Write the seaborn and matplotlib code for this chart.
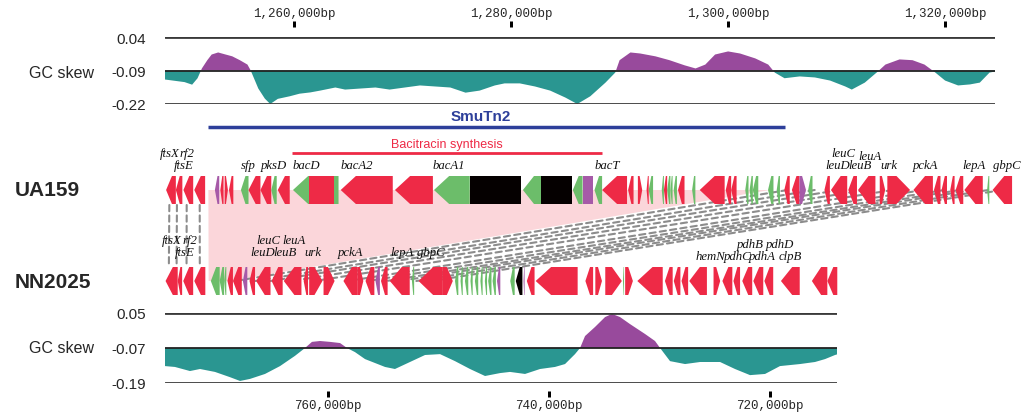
import matplotlib
matplotlib.use("Agg")
from matplotlib import pyplot as plt
from matplotlib.patches import Polygon, ConnectionPatch
import seaborn as sns

# ---- GC skew, UA159 (kb, skew) ----
ua_pos = [1248.1, 1249.0, 1249.9, 1250.6, 1251.1, 1251.5, 1252.0, 1252.4, 1253.0, 1253.6,
          1254.3, 1255.0, 1255.7, 1256.0, 1256.7, 1257.3, 1257.8, 1258.5, 1259.6, 1260.5,
          1261.5, 1262.4, 1263.8, 1264.7, 1266.1, 1267.5, 1268.8, 1270.2, 1271.6, 1273.0,
          1274.4, 1275.8, 1277.1, 1278.5, 1279.4, 1280.8, 1282.2, 1283.6, 1285.0, 1286.1,
          1287.3, 1288.7, 1289.6, 1290.0, 1291.0, 1291.9, 1293.3, 1294.6, 1296.0, 1297.0,
          1297.9, 1298.8, 1300.0, 1301.1, 1302.5, 1303.7, 1304.3, 1305.2, 1306.6, 1308.0,
          1309.4, 1310.8, 1311.4, 1312.6, 1313.8, 1314.5, 1315.8, 1317.0, 1318.1, 1319.1,
          1320.0, 1321.2, 1322.3, 1323.2, 1324.1, 1324.6]
ua_skew = [-0.125, -0.13, -0.135, -0.145, -0.12, -0.082, -0.05, -0.028, -0.02, -0.027,
           -0.035, -0.05, -0.067, -0.09, -0.16, -0.199, -0.22, -0.2, -0.19, -0.18,
           -0.175, -0.168, -0.156, -0.164, -0.16, -0.156, -0.164, -0.156, -0.148, -0.152,
           -0.156, -0.176, -0.168, -0.148, -0.14, -0.14, -0.152, -0.168, -0.195, -0.22,
           -0.19, -0.137, -0.098, -0.05, -0.02, -0.024, -0.035, -0.05, -0.07, -0.082,
           -0.067, -0.028, -0.016, -0.024, -0.043, -0.067, -0.098, -0.12, -0.113, -0.117,
           -0.129, -0.152, -0.164, -0.137, -0.094, -0.067, -0.047, -0.05, -0.067, -0.098,
           -0.129, -0.148, -0.144, -0.137, -0.098, -0.094]
ua_base = -0.09
ua_yticks = [0.04, -0.09, -0.22]
ua_xticks = [1260, 1280, 1300, 1320]

# ---- GC skew, NN2025 (kb, skew) ----
nn_pos = [774.75, 773.85, 772.49, 771.58, 770.23, 768.87, 767.96, 767.06, 765.70, 764.34,
          762.99, 762.08, 761.45, 760.72, 759.82, 758.91, 758.28, 757.56, 756.65, 754.84,
          753.94, 752.58, 751.22, 749.86, 748.51, 747.15, 745.79, 744.43, 743.53, 742.17,
          740.81, 739.46, 738.55, 737.65, 737.19, 736.74, 735.84, 734.93, 734.30, 733.57,
          732.67, 731.31, 730.41, 729.95, 729.05, 727.69, 726.33, 724.52, 723.17, 721.81,
          720.45, 719.10, 717.29, 715.93, 715.02, 714.12, 713.94]
nn_skew = [-0.132, -0.135, -0.149, -0.142, -0.152, -0.17, -0.183, -0.176, -0.159, -0.132,
           -0.097, -0.07, -0.049, -0.046, -0.049, -0.053, -0.07, -0.084, -0.108, -0.135,
           -0.142, -0.118, -0.094, -0.091, -0.115, -0.142, -0.166, -0.156, -0.152, -0.159,
           -0.142, -0.135, -0.125, -0.091, -0.07, -0.029, 0.002, 0.036, 0.047, 0.036,
           0.012, -0.022, -0.046, -0.07, -0.115, -0.125, -0.118, -0.118, -0.142, -0.163,
           -0.159, -0.132, -0.125, -0.118, -0.108, -0.094, -0.092]
nn_base = -0.07
nn_yticks = [0.05, -0.07, -0.19]
nn_xticks = [760, 740, 720]

# ---- genes: (start kb, end kb, strand, kind) ----
ua_genes = [
    (1248.2, 1249.1, -1, "r"), (1249.1, 1249.7, -1, "r"), (1249.8, 1250.7, -1, "r"),
    (1250.8, 1251.8, -1, "r"), (1252.7, 1253.1, -1, "p"), (1253.2, 1253.5, -1, "r"),
    (1253.6, 1253.9, 1, "r"), (1254.0, 1254.4, -1, "r"), (1255.1, 1255.8, -1, "g"),
    (1255.8, 1256.9, -1, "r"), (1256.9, 1257.9, -1, "r"), (1257.9, 1258.4, -1, "g"),
    (1258.5, 1259.6, -1, "r"), (1259.9, 1264.1, -1, "g"), (1261.4, 1263.7, 0, "r"),
    (1264.3, 1269.1, -1, "r"), (1269.3, 1272.8, -1, "r"), (1272.9, 1276.2, -1, "g"),
    (1276.2, 1280.9, 0, "k"), (1281.1, 1282.8, -1, "g"), (1282.8, 1285.6, 0, "k"),
    (1285.7, 1286.6, -1, "g"), (1286.6, 1287.6, 0, "p"), (1287.7, 1288.4, -1, "g"),
    (1288.4, 1290.7, -1, "r"), (1290.8, 1291.3, -1, "r"), (1291.7, 1292.1, 1, "r"),
    (1292.5, 1292.7, -1, "r"), (1292.7, 1293.1, -1, "g"), (1293.9, 1294.1, -1, "g"),
    (1294.1, 1294.4, -1, "r"), (1294.4, 1294.7, -1, "g"), (1294.7, 1294.9, -1, "g"),
    (1295.0, 1295.3, -1, "g"), (1295.4, 1296.0, -1, "r"), (1296.7, 1297.0, -1, "g"),
    (1297.4, 1299.7, -1, "r"), (1299.8, 1300.3, -1, "r"), (1300.3, 1300.8, -1, "r"),
    (1301.6, 1301.9, -1, "g"), (1302.0, 1302.3, -1, "g"), (1302.3, 1302.8, -1, "g"),
    (1303.7, 1304.2, -1, "g"), (1304.5, 1304.8, -1, "g"), (1305.2, 1305.7, -1, "r"),
    (1305.9, 1306.6, -1, "r"), (1306.6, 1307.2, 1, "p"), (1307.4, 1307.8, -1, "g"),
    (1308.9, 1309.4, -1, "r"), (1309.5, 1311.0, -1, "r"), (1311.1, 1311.9, -1, "r"),
    (1312.0, 1313.6, -1, "r"), (1314.0, 1314.5, 1, "r"), (1314.7, 1316.8, 1, "r"),
    (1317.1, 1318.9, -1, "r"), (1319.0, 1319.6, -1, "r"), (1319.7, 1320.2, -1, "r"),
    (1320.5, 1320.9, -1, "r"), (1321.0, 1321.7, -1, "r"), (1321.8, 1323.5, -1, "r"),
    (1323.9, 1324.1, -1, "g"), (1324.4, 1326.2, -1, "r"),
]
nn_genes = [
    (773.6, 774.7, 1, "r"), (773.2, 773.6, 1, "r"), (772.2, 773.1, 1, "r"),
    (771.1, 772.1, 1, "r"), (769.8, 770.6, 1, "g"), (769.4, 769.8, 1, "g"),
    (769.2, 769.4, 1, "g"), (768.6, 769.1, 1, "r"), (767.8, 768.6, 1, "r"),
    (767.3, 767.7, 1, "p"), (766.6, 767.1, 1, "r"), (765.2, 766.5, 1, "r"),
    (764.1, 765.1, 1, "r"), (762.4, 764.0, 1, "r"), (761.8, 762.2, 1, "r"),
    (760.5, 761.7, -1, "r"), (759.4, 760.4, -1, "r"), (757.3, 758.6, 1, "r"),
    (756.8, 757.3, -1, "r"), (755.8, 756.6, 1, "r"), (755.3, 755.7, 1, "p"),
    (754.6, 755.2, 1, "r"), (752.6, 754.4, 1, "r"), (752.2, 752.4, 1, "g"),
    (749.6, 751.8, 1, "r"), (748.7, 749.6, -1, "r"), (748.2, 748.5, 1, "g"),
    (747.8, 748.0, 1, "g"), (747.3, 747.6, 1, "g"), (746.9, 747.1, 1, "g"),
    (746.4, 746.7, 1, "g"), (746.0, 746.2, 1, "g"), (745.6, 745.8, 1, "g"),
    (745.2, 745.5, 1, "g"), (744.8, 745.1, 1, "g"), (744.4, 744.7, 1, "p"),
    (743.1, 743.5, 1, "g"), (742.4, 743.0, 1, "k"), (742.2, 742.3, 1, "p"),
    (741.3, 742.0, 1, "r"), (737.4, 741.2, 1, "r"), (736.0, 736.7, 1, "r"),
    (735.2, 735.8, -1, "r"), (733.4, 734.9, -1, "r"), (733.2, 733.3, 1, "g"),
    (732.4, 733.1, -1, "r"), (729.7, 732.0, 1, "r"), (728.8, 729.5, 1, "r"),
    (728.1, 728.7, 1, "r"), (727.4, 728.0, 1, "r"), (725.7, 727.3, 1, "r"),
    (724.5, 725.1, -1, "r"), (723.4, 724.3, 1, "r"), (722.7, 723.3, 1, "r"),
    (721.6, 722.5, 1, "r"), (720.6, 721.5, 1, "r"), (719.7, 720.5, 1, "r"),
    (717.3, 719.0, 1, "r"), (714.8, 716.2, 1, "r"), (713.9, 714.8, 1, "r"),
]

# gene names: (name, kb, row)  row 0 = upper line, 1 = lower line
ua_labels = [("ftsX", 1248.5, 0), ("rf2", 1250.1, 0), ("ftsE", 1249.8, 1),
             ("sfp", 1255.8, 1), ("pksD", 1258.1, 1), ("bacD", 1261.1, 1),
             ("bacA2", 1265.8, 1), ("bacA1", 1274.3, 1), ("bacT", 1288.9, 1),
             ("leuC", 1310.6, 0), ("leuA", 1313.1, 0.25), ("leuD", 1310.1, 1),
             ("leuB", 1312.2, 1), ("urk", 1314.8, 1), ("pckA", 1318.2, 1),
             ("lepA", 1322.7, 1), ("gbpC", 1325.7, 1)]
nn_labels = [("ftsX", 774.1, 0), ("rf2", 772.5, 0), ("ftsE", 773.0, 1),
             ("leuC", 765.4, 0), ("leuA", 763.1, 0), ("leuD", 765.9, 1),
             ("leuB", 763.9, 1), ("urk", 761.4, 1), ("pckA", 758.0, 1),
             ("lepA", 753.3, 1), ("gbpC", 750.7, 1),
             ("pdhB", 721.8, 0.3), ("pdhD", 719.1, 0.3), ("hemN", 725.4, 1.3),
             ("pdhC", 722.9, 1.3), ("pdhA", 720.7, 1.3), ("clpB", 718.2, 1.3)]

# features on UA159
smutn2 = (1252.1, 1305.3)
bacitracin = (1259.8, 1288.4)

# homologous flanks (UA159 kb, NN2025 kb)
flank_ua = [1248.5, 1249.2, 1250.1, 1251.3]
flank_nn = [774.4, 773.7, 772.8, 771.6]
ortho_ua = [1305.5, 1308.0, 1310.3, 1312.7, 1315.2, 1318.0, 1320.0, 1321.4, 1322.6,
            1324.0, 1325.3]
ortho_nn = [768.4, 766.6, 765.2, 763.3, 761.2, 758.2, 756.4, 754.7, 753.5,
            752.0, 750.6]
# region of UA159 absent from NN2025
insert_ua = (1252.1, 1303.9)
insert_nn = (770.8, 769.0)

GENE_COLORS = {"r": "#ee2a46", "g": "#6cbd6a", "p": "#a65aa8", "k": "#050000"}
TEAL = "#2a9691"
PURPLE = "#984a9c"
PINK = "#fbd6da"
BLUE = "#2d3f9a"

sns.set_theme(style="white")
plt.rcParams["font.family"] = ["Liberation Sans", "DejaVu Sans"]

W, H = 1024, 414
PT = 72 / 100  # points per pixel at dpi 100
fig = plt.figure(figsize=(W / 100, H / 100), dpi=100)


def box(x0, y0, x1, y1):
    return [x0 / W, 1 - y1 / H, (x1 - x0) / W, (y1 - y0) / H]


def skew_panel(ax, pos, skew, base, yticks, xticks, top):
    ax.fill_between(pos, skew, base, where=[v >= base for v in skew],
                    interpolate=True, color=PURPLE, lw=0)
    ax.fill_between(pos, skew, base, where=[v <= base for v in skew],
                    interpolate=True, color=TEAL, lw=0)
    ax.axhline(base, color="#222222", lw=1.3)
    ax.axhline(yticks[0], color="#3a3a3a", lw=2)
    ax.axhline(yticks[-1], color="#3a3a3a", lw=2)
    ax.set_ylim(yticks[-1], yticks[0])
    ax.set_yticks(yticks, labels=[f"{v:.2f}" for v in yticks])
    ax.tick_params(axis="y", length=0, pad=14, labelsize=11)
    if top:
        ax.xaxis.tick_top()
    ax.set_xticks(xticks, labels=[f"{int(v * 1000):,}bp" for v in xticks])
    side = "top" if top else "bottom"
    ax.spines[side].set_position(("outward", (10 if top else 8) * PT))
    ax.tick_params(axis="x", top=top, bottom=not top, labeltop=top,
                   labelbottom=not top, direction="out", length=6 * PT,
                   width=3 * PT, color="black", pad=2 * PT, labelsize=9,
                   labelfontfamily="Liberation Mono")
    sns.despine(ax=ax, left=True, bottom=True, top=True, right=True)
    ax.set_facecolor("none")
    ax.grid(False)


def draw_genes(ax, genes, yc, half, head):
    for start, end, strand, kind in genes:
        h = min(head, 0.6 * (end - start))
        if strand == 0:
            pts = [(start, yc - half), (end, yc - half), (end, yc + half), (start, yc + half)]
        elif strand > 0:
            pts = [(start, yc - half), (end - h, yc - half), (end, yc),
                   (end - h, yc + half), (start, yc + half)]
        else:
            pts = [(end, yc - half), (start + h, yc - half), (start, yc),
                   (start + h, yc + half), (end, yc + half)]
        ax.add_patch(Polygon(pts, closed=True, facecolor=GENE_COLORS[kind],
                             edgecolor="none", zorder=3))


def gene_names(ax, labels, y_upper):
    for name, x, row in labels:
        ax.text(x, y_upper + 12 * row, name, ha="center", va="center",
                family="Liberation Serif", style="italic", fontsize=9.2,
                color="#111111", zorder=5)


# GC skew panels
ax_gt = fig.add_axes(box(165, 38, 995, 105))
ax_gt.set_xlim(1248.1, 1324.6)
skew_panel(ax_gt, ua_pos, ua_skew, ua_base, ua_yticks, ua_xticks, top=True)

ax_gb = fig.add_axes(box(165, 314, 837, 384))
ax_gb.set_xlim(774.75, 713.94)
skew_panel(ax_gb, nn_pos, nn_skew, nn_base, nn_yticks, nn_xticks, top=False)

fig.text(94 / W, 1 - 73 / H, "GC skew", ha="right", va="center", fontsize=11.5)
fig.text(94 / W, 1 - 349 / H, "GC skew", ha="right", va="center", fontsize=11.5)

# gene tracks (y in pixel-like units, downwards)
ax_t = fig.add_axes(box(165, 108, 1024, 236))
ax_t.set_xlim(1248.1, 1327.3)
ax_t.set_ylim(236, 108)
ax_t.set_axis_off()
ax_t.patch.set_alpha(0)

ax_b = fig.add_axes(box(165, 236, 1024, 300))
ax_b.set_xlim(774.75, 697.0)
ax_b.set_ylim(300, 236)
ax_b.set_axis_off()
ax_b.patch.set_alpha(0)

draw_genes(ax_t, ua_genes, 191, 14, 1.4)
draw_genes(ax_b, nn_genes, 282, 14, 1.4)
gene_names(ax_t, ua_labels, 154)
gene_names(ax_b, nn_labels, 241)

ax_t.plot(smutn2, [127.5, 127.5], color=BLUE, lw=2.5, solid_capstyle="butt")
ax_t.text(sum(smutn2) / 2 - 1.5, 117, "SmuTn2", color=BLUE, fontweight="bold",
          fontsize=11, ha="center", va="center")
ax_t.plot(bacitracin, [154, 154], color=GENE_COLORS["r"], lw=2, solid_capstyle="butt")
ax_t.text(sum(bacitracin) / 2, 145, "Bacitracin synthesis", color=GENE_COLORS["r"],
          fontsize=9, ha="center", va="center")

# shaded region missing in NN2025
to_fig = fig.transFigure.inverted()
corners = [ax_t.transData.transform((insert_ua[0], 191)),
           ax_t.transData.transform((insert_ua[1], 191)),
           ax_b.transData.transform((insert_nn[1], 282)),
           ax_b.transData.transform((insert_nn[0], 282))]
fig.add_artist(Polygon([to_fig.transform(c) for c in corners], closed=True,
                       transform=fig.transFigure, facecolor=PINK, edgecolor="none",
                       zorder=-2))

dash = dict(color="#8c8c8c", lw=1.5, linestyle=(0, (3, 2)), zorder=-1)
for a, b in zip(flank_ua, flank_nn):
    fig.add_artist(ConnectionPatch((a, 206), (b, 267), coordsA=ax_t.transData,
                                   coordsB=ax_b.transData, **dash))
for a, b in zip(ortho_ua, ortho_nn):
    fig.add_artist(ConnectionPatch((a, 191), (b, 282), coordsA=ax_t.transData,
                                   coordsB=ax_b.transData, **dash))

fig.text(15 / W, 1 - 190 / H, "UA159", fontweight="bold", fontsize=15, va="center")
fig.text(15 / W, 1 - 283 / H, "NN2025", fontweight="bold", fontsize=15, va="center")

fig.savefig("out.png", dpi=100)
